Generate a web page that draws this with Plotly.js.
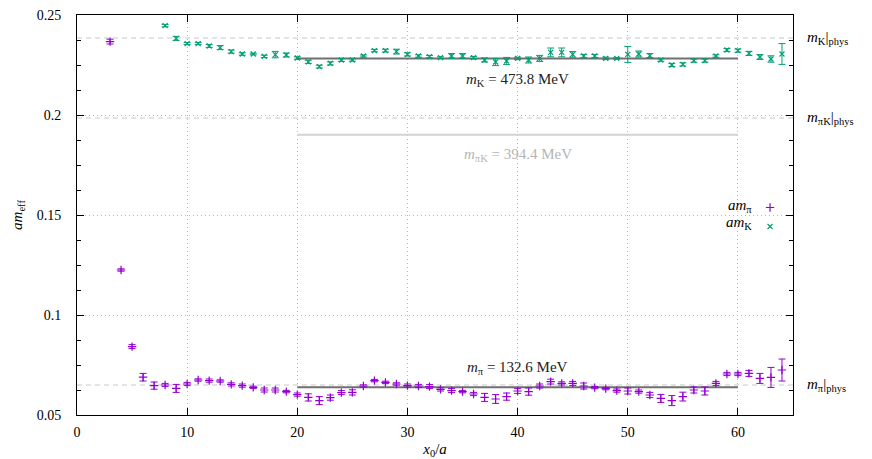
<!DOCTYPE html>
<html>
<head>
<meta charset="utf-8">
<script src="https://cdn.plot.ly/plotly-3.0.1.min.js"></script>
<style>html,body{margin:0;padding:0;background:#fff}#plot{width:872px;height:459px}</style>
</head>
<body>
<div id="plot"></div>
<script>
// ---- data ----
const pionX = [3,4,5,6,7,8,9,10,11,12,13,14,15,16,17,18,19,20,21,22,23,24,25,26,27,28,29,30,31,32,33,34,35,36,37,38,39,40,41,42,43,44,45,46,47,48,49,50,51,52,53,54,55,56,57,58,59,60,61,62,63,64];
const pionY = [0.2367,0.1225,0.0842,0.0689,0.0647,0.0650,0.0633,0.0655,0.0675,0.0672,0.0670,0.0653,0.0647,0.0638,0.0625,0.0625,0.0617,0.0602,0.0588,0.0572,0.0587,0.0612,0.0613,0.0645,0.0672,0.0663,0.0655,0.0647,0.0645,0.0642,0.0628,0.0622,0.0617,0.0605,0.0588,0.0580,0.0592,0.0620,0.0617,0.0645,0.0667,0.0658,0.0658,0.0645,0.0637,0.0632,0.0622,0.0620,0.0617,0.0600,0.0583,0.0572,0.0592,0.0625,0.0620,0.0658,0.0705,0.0705,0.0708,0.0683,0.0688,0.0725];
const pionErr = [0.0012,0.0006,0.0010,0.0019,0.0018,0.0008,0.0020,0.0008,0.0006,0.0008,0.0006,0.0008,0.0008,0.0006,0.0010,0.0010,0.0006,0.0008,0.0018,0.0020,0.0013,0.0010,0.0013,0.0006,0.0006,0.0006,0.0006,0.0008,0.0008,0.0010,0.0008,0.0010,0.0006,0.0008,0.0020,0.0022,0.0018,0.0012,0.0018,0.0010,0.0012,0.0008,0.0010,0.0015,0.0006,0.0006,0.0008,0.0015,0.0008,0.0013,0.0020,0.0025,0.0022,0.0015,0.0020,0.0010,0.0008,0.0008,0.0015,0.0025,0.0050,0.0055];

const kaonX = [8,9,10,11,12,13,14,15,16,17,18,19,20,21,22,23,24,25,26,27,28,29,30,31,32,33,34,35,36,37,38,39,40,41,42,43,44,45,46,47,48,49,50,51,52,53,54,55,56,57,58,59,60,61,62,63,64];
const kaonY = [0.2447,0.2383,0.2357,0.2357,0.2345,0.2337,0.2317,0.2305,0.2305,0.2293,0.2302,0.2300,0.2285,0.2266,0.2242,0.2258,0.2275,0.2275,0.2295,0.2322,0.2322,0.2317,0.2303,0.2295,0.2292,0.2287,0.2295,0.2295,0.2287,0.2275,0.2265,0.2270,0.2283,0.2275,0.2283,0.2313,0.2313,0.2303,0.2295,0.2295,0.2283,0.2283,0.2303,0.2305,0.2297,0.2275,0.2250,0.2253,0.2272,0.2272,0.2295,0.2325,0.2322,0.2308,0.2290,0.2280,0.2305];
const kaonErr = [0.0006,0.0010,0.0005,0.0005,0.0007,0.0010,0.0008,0.0006,0.0004,0.0006,0.0016,0.0010,0.0006,0.0008,0.0007,0.0008,0.0007,0.0006,0.0005,0.0006,0.0007,0.0012,0.0008,0.0006,0.0006,0.0004,0.0012,0.0012,0.0006,0.0010,0.0018,0.0018,0.0006,0.0015,0.0015,0.0022,0.0022,0.0014,0.0008,0.0008,0.0006,0.0004,0.0040,0.0015,0.0010,0.0006,0.0008,0.0008,0.0008,0.0008,0.0006,0.0007,0.0008,0.0010,0.0012,0.0016,0.0052];

const fitRange = [20, 60];
const fitK = 0.2283;
const fitPiK = 0.1901;
const fitPi = 0.0639;
const physK = 0.2385;
const physPiK = 0.1985;
const physPi = 0.0650;

const xTicks = [0,10,20,30,40,50,60];
const yTicks = [0.05,0.1,0.15,0.2,0.25];
const yTickText = ['0.05','0.1','0.15','0.2','0.25'];

const piColor = '#9400d3';
const kColor = '#009e73';
const serif = '"Liberation Serif", "DejaVu Serif", serif';

const traces = [
  {x: fitRange, y: [fitPiK, fitPiK], mode: 'lines', line: {color: '#d2d2d2', width: 2}, showlegend: false, hoverinfo: 'skip'},
  {x: fitRange, y: [fitK, fitK], mode: 'lines', line: {color: '#707070', width: 2}, showlegend: false, hoverinfo: 'skip'},
  {x: fitRange, y: [fitPi, fitPi], mode: 'lines', line: {color: '#707070', width: 2}, showlegend: false, hoverinfo: 'skip'},
  {x: pionX, y: pionY, type: 'scatter', mode: 'markers', name: ' ',
   marker: {symbol: 'cross-thin', size: 6, color: piColor, line: {color: piColor, width: 1.2}},
   error_y: {type: 'data', array: pionErr, visible: true, color: piColor, thickness: 1, width: 3.5}},
  {x: kaonX, y: kaonY, type: 'scatter', mode: 'markers', name: '  ',
   marker: {symbol: 'x-thin', size: 5, color: kColor, line: {color: kColor, width: 1.2}},
   error_y: {type: 'data', array: kaonErr, visible: true, color: kColor, thickness: 1, width: 3.5}}
];

const phys = [physK, physPiK, physPi];
const shapes = phys.map(v => ({type: 'line', xref: 'paper', x0: 0, x1: 1, yref: 'y', y0: v, y1: v,
  line: {color: '#c8c8c8', width: 1, dash: '5px,4px'}, layer: 'below'}));

const midX = (fitRange[0] + fitRange[1]) / 2;
const annFont = (c) => ({family: serif, size: 15, color: c});
const annotations = [
  {x: midX, y: fitK, yshift: -22, text: '<i>m</i><sub>K</sub> = 473.8 MeV', showarrow: false, font: annFont('#222')},
  {x: midX, y: fitPiK, yshift: -20, text: '<i>m</i><sub>πK</sub> = 394.4 MeV', showarrow: false, font: annFont('#b4b4b4')},
  {x: midX, y: fitPi, yshift: 19, text: '<i>m</i><sub>π</sub> = 132.6 MeV', showarrow: false, font: annFont('#222')},
  {xref: 'paper', x: 1, xanchor: 'left', xshift: 12, y: physK, text: '<i>m</i><sub>K</sub>|<sub>phys</sub>', showarrow: false, font: annFont('#000')},
  {xref: 'paper', x: 1, xanchor: 'left', xshift: 12, y: physPiK, text: '<i>m</i><sub>πK</sub>|<sub>phys</sub>', showarrow: false, font: annFont('#000')},
  {xref: 'paper', x: 1, xanchor: 'left', xshift: 12, y: physPi, text: '<i>m</i><sub>π</sub>|<sub>phys</sub>', showarrow: false, font: annFont('#000')},
  {xref: 'paper', yref: 'paper', x: 0.945, xanchor: 'right', y: 0.522, text: '<i>am</i><sub>π</sub>', showarrow: false, font: annFont('#000')},
  {xref: 'paper', yref: 'paper', x: 0.945, xanchor: 'right', y: 0.48, text: '<i>am</i><sub>K</sub>', showarrow: false, font: annFont('#000')}
];

const gridDash = '1px,3px';
const layout = {
  width: 872, height: 459,
  margin: {l: 77, r: 79, t: 15, b: 44},
  paper_bgcolor: '#fff', plot_bgcolor: '#fff',
  font: {family: serif, size: 14, color: '#000'},
  showlegend: true,
  legend: {x: 0.94, xanchor: 'left', y: 0.555, yanchor: 'top', bgcolor: 'rgba(0,0,0,0)', font: {size: 12}, tracegroupgap: 0, itemwidth: 30},
  xaxis: {range: [0, 65], tickvals: xTicks, ticks: 'inside', ticklen: 7, tickcolor: '#000', mirror: 'allticks',
    showline: true, linecolor: '#000', linewidth: 1, showgrid: true, gridcolor: '#b8b8b8', griddash: gridDash, gridwidth: 1,
    zeroline: false, tickfont: {family: serif, size: 14}, ticklabelstandoff: 4,
    title: {text: '<i>x</i><sub>0</sub>/<i>a</i>', font: {family: serif, size: 15}, standoff: 6}},
  yaxis: {range: [0.05, 0.25], tickvals: yTicks, ticktext: yTickText, ticks: 'inside', ticklen: 7, tickcolor: '#000', mirror: 'allticks',
    showline: true, linecolor: '#000', linewidth: 1, showgrid: true, gridcolor: '#b8b8b8', griddash: gridDash, gridwidth: 1,
    zeroline: false, tickfont: {family: serif, size: 14}, ticklabelstandoff: 12,
    minor: {dtick: 0.0125, tick0: 0.05, ticks: 'inside', ticklen: 4, tickcolor: '#000', showgrid: false},
    title: {text: '<i>am</i><sub>eff</sub>', font: {family: serif, size: 15}, standoff: 10}},
  shapes: shapes,
  annotations: annotations
};

Plotly.newPlot('plot', traces, layout, {displayModeBar: false, staticPlot: true});
</script>
</body>
</html>
